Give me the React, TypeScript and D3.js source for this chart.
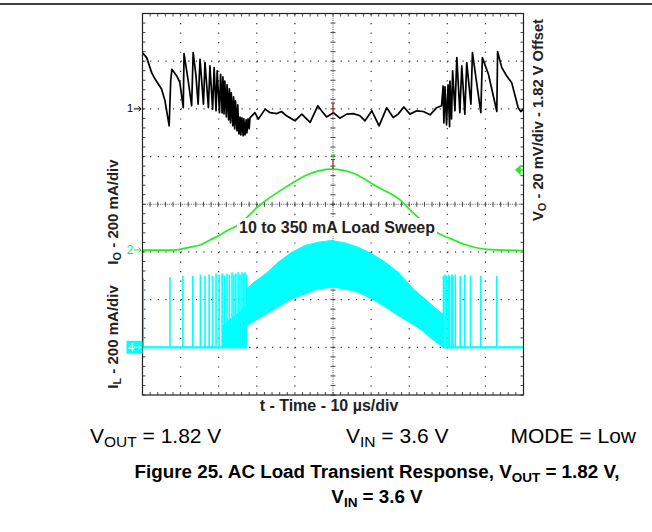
import React from 'react';
import * as d3 from 'd3';

// V_O trace: [time µs, mV relative to 1.82 V offset]
const voTrace: [number, number][] = [
  [0, 23.5], [1.1, 21.5], [2.4, 15.2], [3.3, 12.5], [5.0, 8.3], [5.9, 3.4], [7.0, -7.1], [7.4, 11.7], [7.7, 16.6],
  [9.0, 13.8], [9.8, 11.0], [10.7, 0.5], [10.9, 23.2], [12.0, 11.7], [12.9, 1.3], [13.3, 23.6], [14.0, 14.5],
  [14.6, 2.0], [15.1, 20.8], [16.0, 2.0], [16.4, 19.4], [17.3, 0.5], [17.7, 18.0], [18.4, -0.1], [18.8, 17.3],
  [19.3, -0.8], [19.6, 15.9], [20.2, -1.6], [20.5, 14.5], [20.9, -1.7], [21.1, 13.4], [21.4, -2.1], [21.6, 11.7],
  [22.0, -3.4], [22.2, 10.1], [22.6, -4.6], [22.8, 8.4], [23.1, -5.9], [23.3, 6.7], [23.7, -7.1], [23.9, 5.0],
  [24.2, -8.4], [24.4, 3.4], [24.8, -9.2], [25.0, 1.7], [25.3, -10.5], [25.6, -3.4], [25.8, -10.9], [26.1, -3.8],
  [26.4, -11.3], [26.6, -4.2], [26.9, -10.9], [27.2, -4.6], [27.4, -10.1], [27.7, -4.2], [28.0, -8.4], [28.2, -3.8],
  [29.5, -1.6], [30.4, -4.3], [32.2, -0.1], [33.5, -1.6], [35.2, -2.0], [36.5, -1.1], [37.8, -2.9], [40.0, -5.0],
  [41.8, -2.2], [44.0, -5.7], [46.0, 1.3], [47.0, -0.8], [48.3, -3.4], [50.1, -1.6], [51.8, -3.9], [53.6, -2.2],
  [55.3, -2.0], [57.1, -2.9], [58.4, -5.0], [60.2, -0.8], [62.1, -7.1], [64.1, 0.5], [65.8, -3.6], [67.1, -2.2],
  [68.6, 0.8], [70.2, -2.2], [72.0, -0.8], [73.7, -1.1], [75.5, -2.5], [77.2, 0.5], [78.5, 1.3], [78.9, 9.6],
  [79.1, -5.9], [79.4, 9.2], [79.8, -6.7], [80.2, 10.1], [80.6, -7.5], [80.7, 11.7], [81.1, -4.2], [81.4, 15.9],
  [82.0, -0.8], [82.5, 21.5], [83.3, -1.6], [83.8, 18.0], [84.6, -2.2], [85.1, 19.4], [86.2, 2.0], [86.6, 23.6],
  [88.8, -1.6], [89.2, 21.5], [90.8, 14.5], [93.0, -1.1], [93.2, 24.0], [94.3, 17.3], [95.6, 13.8], [96.9, 11.0],
  [98.6, 0.5], [99.3, -1.1], [100, -0.1],
];

// I_O load sweep: [time µs, mA]
const ioTrace: [number, number][] = [
  [0, 8], [8.1, 8], [12.5, 20], [15.1, 29], [17.7, 50], [20.3, 71], [22.5, 92], [24.7, 109], [30.8, 197],
  [37.8, 274], [43.1, 323], [49.7, 347], [55.2, 331], [61.5, 274], [67.6, 218], [71.0, 164], [77.6, 78],
  [80.7, 57], [85.1, 29], [90.3, 11], [100, 6],
];

// I_L continuous-switching band envelopes: [time µs, mA]
const ilUpper: [number, number][] = [
  [27.4, 245], [29.0, 270], [30.8, 291], [32.6, 312], [35.6, 357], [39.2, 399], [42.7, 427], [46.1, 441],
  [49.7, 448], [53.1, 438], [56.6, 420], [60.2, 392], [63.7, 357], [67.1, 315], [71.1, 245], [74.6, 196],
  [77.6, 154], [78.9, 140],
];
const ilLower: [number, number][] = [
  [27.4, 91], [28.2, 99], [32.6, 140], [35.6, 169], [39.2, 203], [42.7, 224], [46.1, 245], [49.7, 252],
  [53.1, 245], [56.6, 231], [60.2, 203], [63.7, 169], [67.1, 133], [72.8, 78], [76.3, 31], [78.9, 0],
];
// I_L pulse-mode spikes: [time µs, peak mA]
const ilSpikes: [number, number][] = [
  [0.2, 290], [7.2, 295], [10.6, 300], [13.2, 300], [15.2, 305], [16.4, 300], [17.5, 305], [18.4, 300],
  [19.3, 310], [20.1, 305], [20.9, 310], [21.5, 300], [22.2, 310], [22.8, 305], [23.5, 315], [24.0, 305],
  [24.5, 310], [25.1, 315], [25.6, 305], [26.1, 315], [26.5, 310], [26.9, 315], [27.3, 305],
  [79.0, 300], [79.4, 305], [79.8, 300], [80.3, 305], [80.6, 300], [81.2, 305], [81.5, 300], [82.1, 305],
  [83.4, 300], [84.6, 305], [86.1, 300], [88.8, 300], [93.0, 300],
];
// dense burst body (top of solid region) before continuous mode
const ilBurst: [number, number][] = [[21.0, 90], [23.0, 120], [25.5, 150], [27.3, 178]];
const ilBaseline: [number, number][] = [[0, 0], [27.4, 0], [78.9, 0], [100, 0]];

const timeDivs = d3.range(0, 11);
const vertDivs = d3.range(0, 9);

const FONT = '"Liberation Sans", Arial, Helvetica, sans-serif';

export default function App() {
  const L = 142.5, R = 523.5, T = 13.5, B = 395;
  const x = d3.scaleLinear().domain([0, 100]).range([L, R]);
  const div = d3.scaleLinear().domain([0, 8]).range([T, B]);
  const yV = d3.scaleLinear().domain([-120, 40]).range([B, T]);
  const yIo = d3.scaleLinear().domain([-600, 1000]).range([B, T]);
  const yIL = d3.scaleLinear().domain([-200, 1400]).range([B, T]);
  const xd = d3.scaleLinear().domain([0, 10]).range([L, R]);

  const voLine = d3.line<[number, number]>().x(d => x(d[0])).y(d => yV(d[1]));
  const ioLine = d3.line<[number, number]>().x(d => x(d[0])).y(d => yIo(d[1])).curve(d3.curveMonotoneX);
  const ilLine = d3.line<[number, number]>().x(d => x(d[0])).y(d => yIL(d[1]));
  const bandPts = [...ilUpper, ...ilLower.slice().reverse()];
  const burstArea = d3.area<[number, number]>().x(d => x(d[0])).y0(yIL(0)).y1(d => yIL(d[1]));

  const cx = xd(5), cy = div(4);
  const hMinor = (R - L) / 50, vMinor = (B - T) / 40;
  const minorX = d3.range(0, 51).map(i => L + i * hMinor);
  const minorY = d3.range(0, 41).map(i => T + i * vMinor);

  const green = '#22ee22';
  const cyan = '#00ffff';

  return (
    <div style={{ position: 'absolute', left: 0, top: 0 }}>
      <svg width={652} height={532} style={{ display: 'block', background: '#fff' }} fontFamily={FONT}>
        <line x1={0} x2={652} y1={4} y2={4} stroke="#000" strokeWidth={1.6} />
        {/* grid */}
        {timeDivs.filter(i => i > 0 && i < 10 && i !== 5).map(i => (
          <line key={'gv' + i} x1={xd(i)} x2={xd(i)} y1={T} y2={B} stroke="#333" strokeWidth={1.2}
            strokeDasharray={`1.2 ${vMinor - 1.2}`} />
        ))}
        {vertDivs.filter(j => j > 0 && j < 8 && j !== 4).map(j => (
          <line key={'gh' + j} x1={L} x2={R} y1={div(j)} y2={div(j)} stroke="#333" strokeWidth={1.2}
            strokeDasharray={`1.2 ${hMinor - 1.2}`} />
        ))}
        {/* center axes */}
        <line x1={cx} x2={cx} y1={T} y2={B} stroke="#555" strokeWidth={1} strokeDasharray="1 1.2" />
        <line x1={L} x2={R} y1={cy} y2={cy} stroke="#555" strokeWidth={1} strokeDasharray="1 1.2" />
        {minorX.map((mx, i) => (
          <g key={'mx' + i} stroke="#333" strokeWidth={0.9}>
            <line x1={mx} x2={mx} y1={cy - 2.5} y2={cy + 2.5} />
            <line x1={mx} x2={mx} y1={T} y2={T + 3} />
            <line x1={mx} x2={mx} y1={B - 3} y2={B} />
          </g>
        ))}
        {minorY.map((my, i) => (
          <g key={'my' + i} stroke="#333" strokeWidth={0.9}>
            <line x1={cx - 2.5} x2={cx + 2.5} y1={my} y2={my} />
            <line x1={L} x2={L + 3} y1={my} y2={my} />
            <line x1={R - 3} x2={R} y1={my} y2={my} />
          </g>
        ))}

        {/* I_L trace */}
        <path d={burstArea(ilBurst) || ''} fill={cyan} />
        <path d={ilLine(bandPts) + 'Z'} fill={cyan} stroke={cyan} strokeWidth={1} />
        <path d={ilLine(ilBaseline.slice(0, 2)) || ''} stroke={cyan} strokeWidth={2.2} fill="none" />
        <path d={ilLine(ilBaseline.slice(2)) || ''} stroke={cyan} strokeWidth={2.2} fill="none" />
        {ilSpikes.map((s, i) => (
          <line key={'sp' + i} x1={x(s[0])} x2={x(s[0])} y1={yIL(0)} y2={yIL(s[1])} stroke={cyan} strokeWidth={1.6} />
        ))}

        {/* I_O trace */}
        <path d={ioLine(ioTrace) || ''} stroke={green} strokeWidth={1.7} fill="none" />

        {/* V_O trace */}
        <path d={voLine(voTrace) || ''} stroke="#000" strokeWidth={1.7} fill="none" strokeLinejoin="round" />

        {/* frame */}
        <rect x={L} y={T} width={R - L} height={B - T} fill="none" stroke="#222" strokeWidth={1.2} />

        {/* cursors */}
        <g stroke="#a03030" strokeWidth={1.2}>
          <line x1={cx} x2={cx} y1={103} y2={113} />
          <line x1={cx - 2} x2={cx + 2} y1={103} y2={103} />
          <line x1={cx} x2={cx} y1={159.5} y2={169} />
          <line x1={cx - 2} x2={cx + 2} y1={159.5} y2={159.5} />
        </g>
        <rect x={cx - 2} y={154.5} width={4} height={2} fill={green} />

        {/* load sweep label */}
        <rect x={237} y={218} width={200} height={18} fill="#fff" />
        <text x={337} y={233} textAnchor="middle" fontSize={16} fontWeight="bold" fill="#222">10 to 350 mA Load Sweep</text>

        {/* channel markers */}
        <text x={130} y={112} textAnchor="middle" fontSize={11} fill="#000">1</text>
        <path d={`M134,${yV(0)}H141M138.5,${yV(0) - 2.5}L141,${yV(0)}L138.5,${yV(0) + 2.5}`} stroke="#000" strokeWidth={1} fill="none" />
        <text x={130} y={yIo(0) + 2} textAnchor="middle" fontSize={12} fill={green}>2</text>
        <path d={`M134,${yIo(0) - 2}H141M138.5,${yIo(0) - 4.5}L141,${yIo(0) - 2}L138.5,${yIo(0) + 0.5}`} stroke={green} strokeWidth={1} fill="none" />
        <rect x={126.5} y={yIL(0) - 6.5} width={16} height={13} fill={cyan} />
        <text x={131} y={yIL(0) + 4} textAnchor="middle" fontSize={11} fill="#fff">4</text>
        <path d={`M134,${yIL(0)}H141M138.5,${yIL(0) - 2.5}L141,${yIL(0)}L138.5,${yIL(0) + 2.5}`} stroke="#fff" strokeWidth={1} fill="none" />
        <path d="M516,170L520,166.5V173.5Z M519,170H523" stroke={green} fill={green} strokeWidth={1.5} />

        {/* axis labels */}
        <text transform="translate(118,212) rotate(-90)" textAnchor="middle" fontSize={15} fontWeight="bold" fill="#222">
          I<tspan fontSize={11} dy={3}>O</tspan><tspan dy={-3}> - 200 mA/div</tspan>
        </text>
        <text transform="translate(118,337) rotate(-90)" textAnchor="middle" fontSize={15} fontWeight="bold" fill="#222">
          I<tspan fontSize={11} dy={3}>L</tspan><tspan dy={-3}> - 200 mA/div</tspan>
        </text>
        <text transform="translate(543,120) rotate(-90)" textAnchor="middle" fontSize={14.7} fontWeight="bold" fill="#222">
          V<tspan fontSize={11} dy={3}>O</tspan><tspan dy={-3}> - 20 mV/div - 1.82 V Offset</tspan>
        </text>
        <text x={329} y={411} textAnchor="middle" fontSize={16} fontWeight="bold" fill="#222">t - Time - 10 µs/div</text>

        {/* conditions */}
        <text x={90} y={443} fontSize={21} fill="#000">V<tspan fontSize={15.5} dy={4}>OUT</tspan><tspan dy={-4}> = 1.82 V</tspan></text>
        <text x={346} y={443} fontSize={21} fill="#000">V<tspan fontSize={15.5} dy={4}>IN</tspan><tspan dy={-4}> = 3.6 V</tspan></text>
        <text x={636} y={443} textAnchor="end" fontSize={21} fill="#000">MODE = Low</text>

        {/* caption */}
        <text x={377} y={478} textAnchor="middle" fontSize={18.8} fontWeight="bold" fill="#000">
          Figure 25. AC Load Transient Response, V<tspan fontSize={13.5} dy={4}>OUT</tspan><tspan dy={-4}> = 1.82 V,</tspan>
        </text>
        <text x={377} y={503} textAnchor="middle" fontSize={18.8} fontWeight="bold" fill="#000">
          V<tspan fontSize={13.5} dy={4}>IN</tspan><tspan dy={-4}> = 3.6 V</tspan>
        </text>
      </svg>
    </div>
  );
}
